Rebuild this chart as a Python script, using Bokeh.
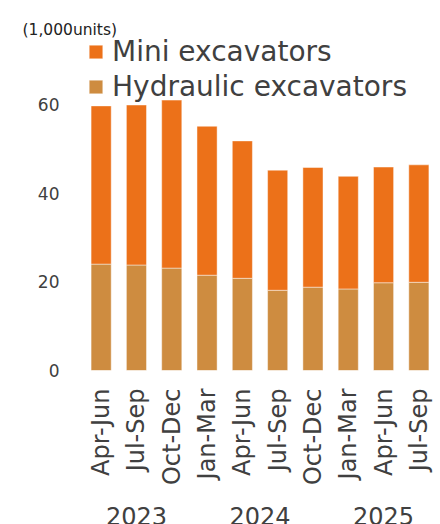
import math
from bokeh.plotting import figure
from bokeh.models import (Range1d, FixedTicker, Legend, LegendItem, ColumnDataSource,
                          LinearAxis, Title)
from bokeh.embed import file_html
from bokeh.resources import INLINE

# ---- data ----
categories = ["Apr-Jun", "Jul-Sep", "Oct-Dec", "Jan-Mar", "Apr-Jun",
              "Jul-Sep", "Oct-Dec", "Jan-Mar", "Apr-Jun", "Jul-Sep"]
years = ["2023", "2024", "2025"]
year_counts = [3, 4, 3]
hydraulic = [24.0, 23.8, 23.1, 21.5, 20.8, 18.1, 18.8, 18.4, 19.8, 19.9]
mini = [35.7, 36.1, 37.9, 33.6, 31.0, 27.1, 27.0, 25.4, 26.1, 26.5]
y_ticks = [0, 20, 40, 60]
unit_text = "(1,000units)"
series_names = ["Mini excavators", "Hydraulic excavators"]

# ---- style ----
C_MINI = "#EC7119"
C_HYD = "#CE8C40"
TXT = "#404040"
FONT = "DejaVu Sans"

xs = list(range(len(categories)))
source = ColumnDataSource(dict(x=xs, hydraulic=hydraulic, mini=mini))

p = figure(frame_width=353, frame_height=332, output_backend="svg", toolbar_location=None,
           x_range=Range1d(-0.5, len(categories) - 0.5), y_range=Range1d(0, 74.9),
           min_border_left=83, min_border_right=4, min_border_top=38, min_border_bottom=0)
p.outline_line_color = None
p.xgrid.grid_line_color = None
p.ygrid.grid_line_color = None
p.background_fill_color = "white"
p.border_fill_color = "white"

r_hyd, r_mini = p.vbar_stack(["hydraulic", "mini"], x="x", width=0.57, source=source,
                             fill_color=[C_HYD, C_MINI], line_color="white", line_alpha=0.45,
                             line_width=1)

def style_axis(ax, size, standoff):
    ax.major_label_text_font = FONT
    ax.major_label_text_font_size = size
    ax.major_label_text_color = TXT
    ax.major_tick_out = 0
    ax.major_tick_in = 0
    ax.minor_tick_out = 0
    ax.minor_tick_in = 0
    ax.major_label_standoff = standoff
    ax.axis_line_color = None
    ax.major_tick_line_color = None
    ax.minor_tick_line_color = None

# quarter axis
xa = p.xaxis[0]
xa.ticker = FixedTicker(ticks=xs)
xa.major_label_overrides = {i: c for i, c in enumerate(categories)}
xa.major_label_orientation = math.pi / 2
style_axis(xa, "24px", 18)

# year axis (below the quarter axis), ticks at the centre of each year's bars
year_centers = []
start = 0
for n in year_counts:
    c = sum(xs[start:start + n]) / n
    year_centers.append(int(c) if float(c).is_integer() else c)
    start += n
ya2 = LinearAxis(ticker=FixedTicker(ticks=year_centers),
                 major_label_overrides={c: y for c, y in zip(year_centers, years)})
style_axis(ya2, "24px", 18)
p.add_layout(ya2, "below")

# value axis
ya = p.yaxis[0]
ya.ticker = FixedTicker(ticks=y_ticks)
style_axis(ya, "17px", 24)

# unit text
p.add_layout(Title(text=unit_text, align="left", offset=-61, standoff=0,
                   text_font=FONT, text_font_size="15.5px", text_font_style="normal",
                   text_color="#222222"), "above")

legend = Legend(items=[LegendItem(label=series_names[0], renderers=[r_mini]),
                       LegendItem(label=series_names[1], renderers=[r_hyd])],
                location=(4, 267), orientation="vertical")
legend.glyph_width = 17
legend.glyph_height = 17
legend.label_text_font = FONT
legend.label_text_font_size = "28px"
legend.label_text_color = TXT
legend.label_standoff = 8
legend.spacing = 2
legend.padding = 0
legend.margin = 0
legend.border_line_color = None
legend.background_fill_alpha = 0
p.add_layout(legend)

open("out.html", "w").write(file_html(p, INLINE))
